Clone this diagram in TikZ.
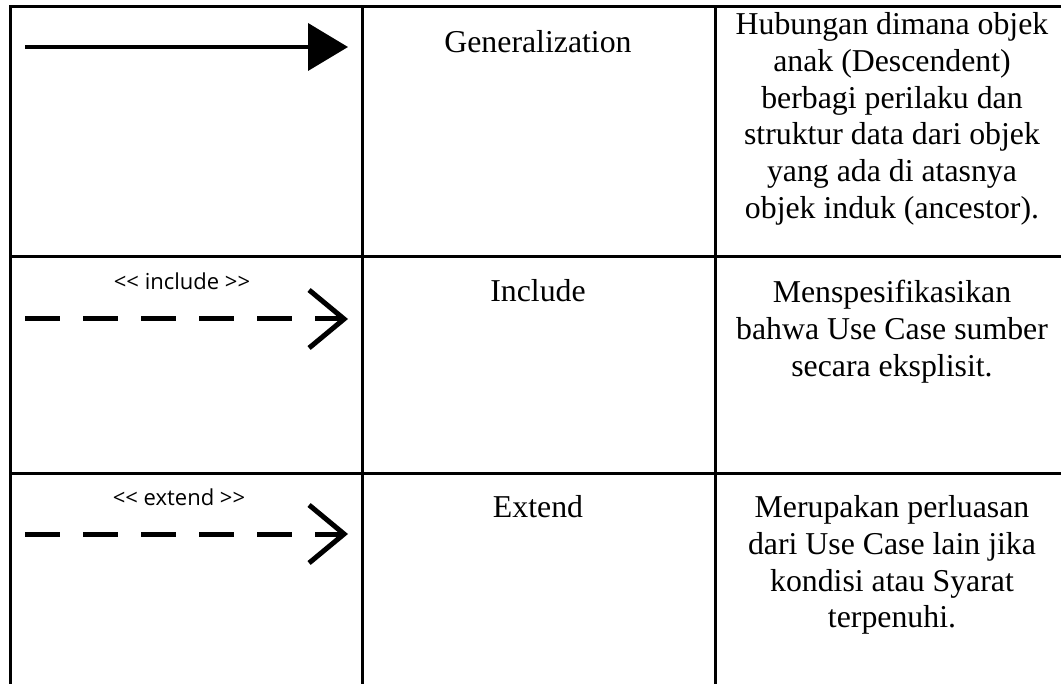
\documentclass[tikz,border=0pt]{standalone}
\usepackage{fontspec}
\setmainfont{Liberation Serif}
\newfontfamily\stereofont{Open Sans}
\usetikzlibrary{arrows.meta, positioning}

\tikzset{
  gridline/.style={line width=1.5pt, line cap=rect},
  relname/.style={font=\fontsize{15.9}{18.4}\selectfont, anchor=base, inner sep=0pt},
  reldesc/.style={font=\fontsize{15.9}{18.4}\selectfont, align=center, anchor=north, inner sep=0pt},
  stereo/.style={font=\stereofont\fontsize{11}{13}\selectfont, anchor=base, inner sep=0pt},
  genline/.style={line width=2pt, -{Triangle[length=20pt, width=23.5pt]}},
  depline/.style={line width=2.5pt, dash pattern=on 17.5pt off 11.5pt, -{Straight Barb[length=17.5pt, width=29pt]}},
}

\begin{document}
\begin{tikzpicture}[x=0.5pt, y=-0.5pt]
  \useasboundingbox (0,0) rectangle (1061,684);

  % ===== Table grid =====
  \draw[gridline] (10,684) -- (10,7) -- (1061,7);
  \draw[gridline] (10,257) -- (1061,257);
  \draw[gridline] (10,473) -- (1061,473);
  \draw[gridline] (362,7) -- (362,684);
  \draw[gridline] (715,7) -- (715,684);

  % ===== Generalization =====
  \coordinate (gen-from) at (25,47);
  \coordinate (gen-to) at (348,47);
  \draw[genline] (gen-from) -- (gen-to);
  \node[relname] (gen-name) at (538,53) {Generalization};
  \node[reldesc] (gen-desc) at (892,12) {Hubungan dimana objek\\anak (Descendent)\\berbagi perilaku dan\\struktur data dari objek\\yang ada di atasnya\\objek induk (ancestor).};

  % ===== Include =====
  \node[stereo] (inc-label) at (182,290) {<{}< include >{}>};
  \coordinate (inc-from) at (25,319);
  \coordinate (inc-to) at (348,319);
  \draw[depline] (inc-from) -- (inc-to);
  \node[relname] (inc-name) at (538,302) {Include};
  \node[reldesc] (inc-desc) at (892,280) {Menspesifikasikan\\bahwa Use Case sumber\\secara eksplisit.};

  % ===== Extend =====
  \node[stereo] (ext-label) at (179,505) {<{}< extend >{}>};
  \coordinate (ext-from) at (25,534);
  \coordinate (ext-to) at (348,534);
  \draw[depline] (ext-from) -- (ext-to);
  \node[relname] (ext-name) at (538,517) {Extend};
  \node[reldesc] (ext-desc) at (892,495) {Merupakan perluasan\\dari Use Case lain jika\\kondisi atau Syarat\\terpenuhi.};
\end{tikzpicture}
\end{document}
